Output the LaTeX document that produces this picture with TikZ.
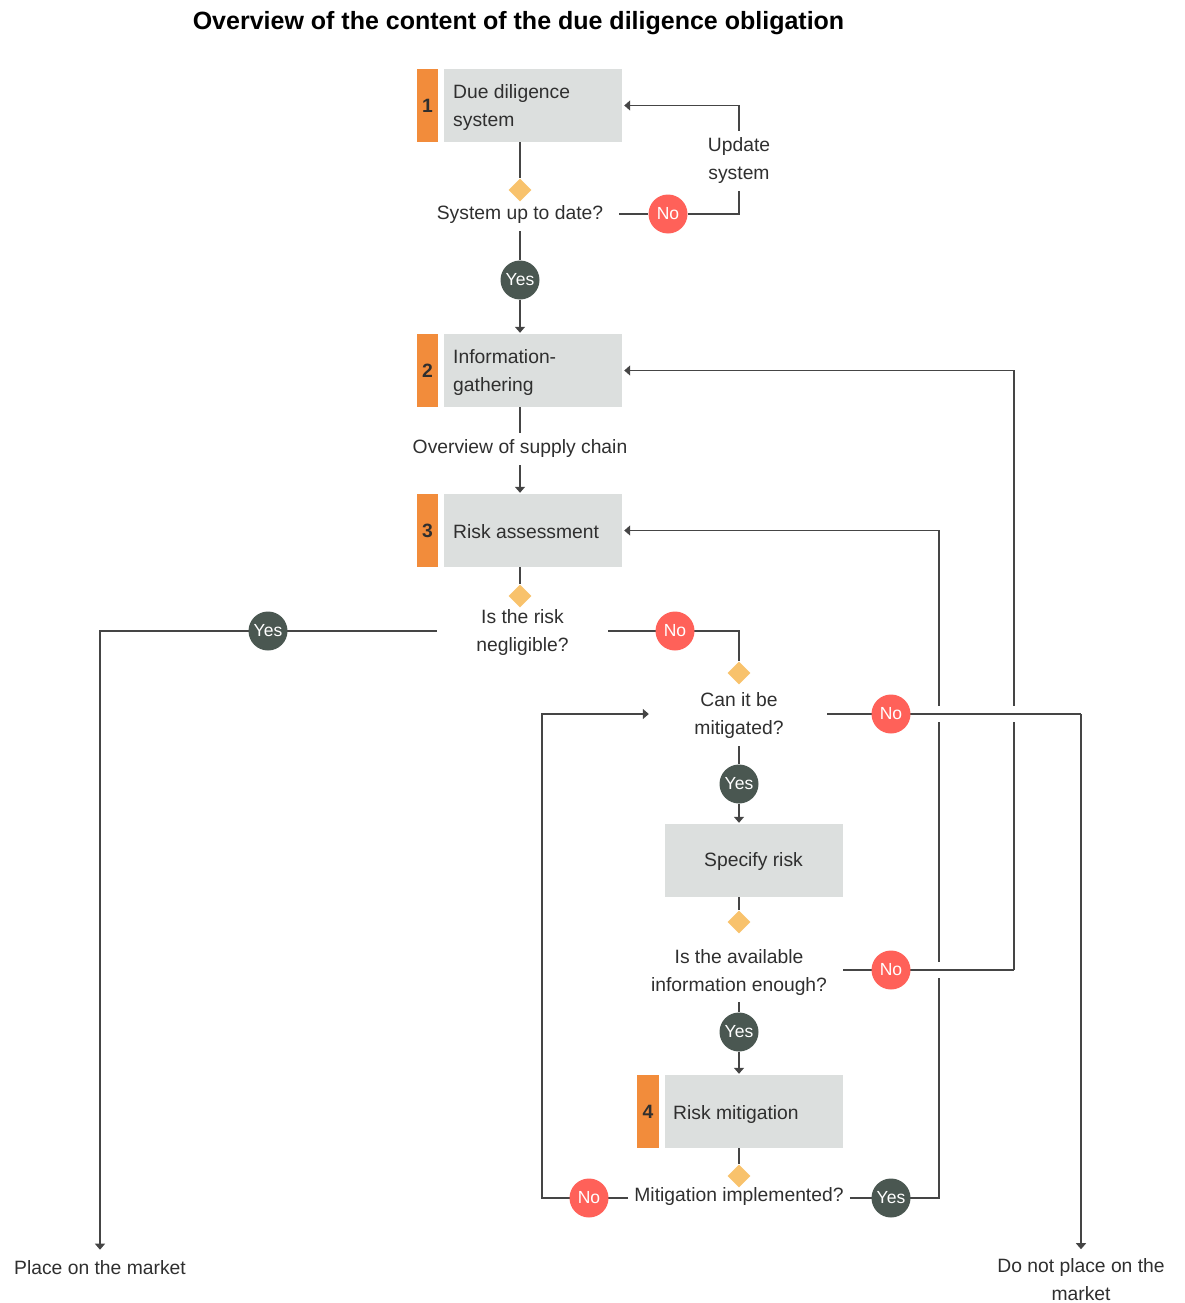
\documentclass[tikz,border=0pt]{standalone}
\usepackage{fontspec}
\setmainfont{Liberation Sans}
\usetikzlibrary{shapes.geometric,arrows.meta,calc}
\pgfdeclarelayer{bg}
\pgfsetlayers{bg,main}
\definecolor{orng}{HTML}{F28C3B}
\definecolor{gbx}{HTML}{DCDFDE}
\definecolor{dmd}{HTML}{F8C26C}
\definecolor{rd}{HTML}{FF6159}
\definecolor{dk}{HTML}{4A5751}
\definecolor{txt}{HTML}{2F2F2F}
\definecolor{lnc}{HTML}{454545}
\begin{document}
\begin{tikzpicture}[x=1pt,y=-1pt,
  every node/.style={text=txt, font=\fontsize{19.3}{28}\selectfont},
  bar/.style={fill=orng, minimum width=21pt, minimum height=73pt, inner sep=0pt, font=\bfseries\fontsize{19.3}{28}\selectfont},
  gbox/.style={fill=gbx, minimum height=73pt, minimum width=178pt, inner sep=0pt},
  btext/.style={anchor=west, align=left, inner sep=0pt},
  dia/.style={diamond, fill=dmd, minimum size=23pt, inner sep=0pt},
  qtext/.style={align=center, inner xsep=3pt, inner ysep=7pt},
  yesc/.style={circle, fill=dk, minimum size=39pt, inner sep=0pt, text=white, font=\fontsize{17.5}{20}\selectfont},
  noc/.style={circle, fill=rd, minimum size=39pt, inner sep=0pt, text=white, font=\fontsize{17.5}{20}\selectfont},
  ln/.style={draw=lnc, line width=1.3pt},
  arr/.style={ln, -{Triangle[width=10pt,length=6pt]}, shorten >=1pt},
  gap/.style={preaction={draw=white, line width=16pt}}
]
\useasboundingbox (0,0) rectangle (1184,1303);

\node[font=\bfseries\fontsize{25}{29}\selectfont, text=black] (title) at (518.5,23) {Overview of the content of the due diligence obligation};

% step 1
\node[bar] (n1) at (427.5,105.5) {1};
\node[gbox] (b1) at (533,105.5) {};
\node[btext] (b1t) at (453,108) {Due diligence\\system};
\node[dia] (d1) at (520,190) {};
\node[qtext, minimum width=198pt] (q1) at (520,215) {System up to date?};
\node[yesc] (y1) at (520,280) {Yes};
\node[noc] (no1) at (668,214) {No};
\node[qtext] (upd) at (739,161) {Update\\system};

% step 2
\node[bar] (n2) at (427.5,370.5) {2};
\node[gbox] (b2) at (533,370.5) {};
\node[btext] (b2t) at (453,373) {Information-\\gathering};
\node[qtext] (q2) at (520,449) {Overview of supply chain};

% step 3
\node[bar] (n3) at (427.5,530.5) {3};
\node[gbox] (b3) at (533,530.5) {};
\node[btext] (b3t) at (453,532) {Risk assessment};
\node[dia] (d3) at (520,596) {};
\node[qtext, minimum width=171pt] (q3) at (522.5,633) {Is the risk\\negligible?};
\node[yesc] (y3) at (268,631) {Yes};
\node[noc] (no3) at (675,631) {No};

% mitigation check
\node[dia] (d4) at (739,673) {};
\node[qtext, minimum width=176pt] (q4) at (739,716) {Can it be\\mitigated?};
\node[noc] (no4) at (891,714) {No};
\node[yesc] (y4) at (739,784) {Yes};
\node[gbox] (b5) at (753.5,860.5) {};
\node[btext, anchor=center] (b5t) at (753.5,861) {Specify risk};
\node[dia] (d5) at (739,922) {};
\node[qtext, minimum width=208pt] (q5) at (739,972) {Is the available\\information enough?};
\node[noc] (no5) at (891,970) {No};
\node[yesc] (y5) at (739,1032) {Yes};

% step 4
\node[bar, minimum width=22pt] (n4) at (648,1111.5) {4};
\node[gbox] (b4) at (753.5,1111.5) {};
\node[btext] (b4t) at (673,1114) {Risk mitigation};
\node[dia] (d6) at (739,1176) {};
\node[qtext, inner xsep=6pt] (q6) at (739,1196) {Mitigation implemented?};
\node[noc] (no6) at (589,1198) {No};
\node[yesc] (y6) at (891,1198) {Yes};

% outcomes
\node[qtext] (place) at (100,1268) {Place on the market};
\node[qtext, inner ysep=1pt] (dnp) at (1081,1279.5) {Do not place on the\\market};

\coordinate (ka) at (939,0);
\coordinate (kb) at (542,0);
\coordinate (kc) at (1014,0);

\begin{pgfonlayer}{bg}
\draw[ln] (d1 |- b1.south) -- (d1.north);
\draw[ln] (q1.south) -- (y1.north);
\draw[arr] (y1.south) -- (y1 |- b2.north);
\draw[ln] (q1.east |- no1) -- (no1) -| (upd.south);
\draw[arr, shorten >=2pt] (upd.north) |- (b1.east);

\draw[ln] (q2 |- b2.south) -- (q2.north);
\draw[arr] (q2.south) -- (q2 |- b3.north);

\draw[ln] (d3 |- b3.south) -- (d3.north);
\draw[arr, shorten >=4pt] (q3.west |- y3) -| (place.north);
\draw[ln] (q3.east |- no3) -| (d4.north);

\draw[ln] (q4.south) -- (y4.north);
\draw[arr] (y4.south) -- (y4 |- b5.north);
\draw[ln] (d5 |- b5.south) -- (d5.north);
\draw[ln] (q5.south) -- (y5.north);
\draw[arr] (y5.south) -- (y5 |- b4.north);
\draw[ln] (d6 |- b4.south) -- (d6.north);

\draw[arr, shorten >=2pt] (q6.east |- y6) -- (y6 -| ka) |- (b3.east);
\draw[arr, shorten >=2pt] (q6.west |- no6) -- (no6 -| kb) |- (q4.west |- no4);
\draw[ln, gap] (q5.east |- no5) -- (no5 -| kc);
\draw[arr, shorten >=2pt] (no5 -| kc) |- (b2.east);
\draw[ln, gap] (q4.east |- no4) -- (no4 -| dnp);
\draw[arr, shorten >=8pt] (no4 -| dnp) -- (dnp.north);
\end{pgfonlayer}
\end{tikzpicture}
\end{document}
